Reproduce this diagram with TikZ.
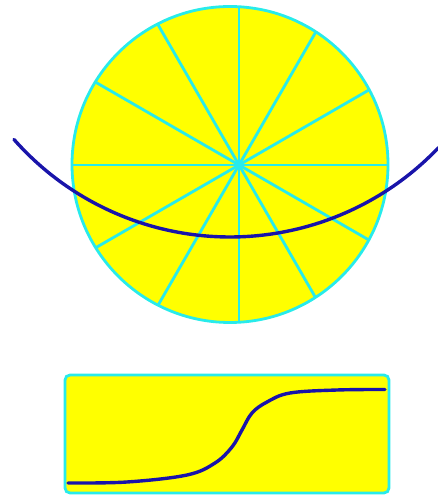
\documentclass[tikz,border=0pt]{standalone}
\usepackage{tikz}
\usetikzlibrary{calc}
\definecolor{amarillo}{RGB}{255,255,0}
\definecolor{cian}{RGB}{40,235,235}
\definecolor{azuloscuro}{RGB}{25,20,170}

\begin{document}
\begin{tikzpicture}[x=1pt,y=1pt,
rueda/.style={draw=cian,line width=2.8pt,fill=amarillo},
radio/.style={draw=cian,line width=2.8pt},
caja/.style={draw=cian,line width=2.8pt,fill=amarillo,rounded corners=5pt},
curva/.style={draw=azuloscuro,line width=3.4pt,line cap=round,line join=round}
]
\useasboundingbox (0,0) rectangle (438,495);

\coordinate (centro) at (230,330.5);
\coordinate (eje) at (239,330);
\coordinate (arcocentro) at (230,546);

% rueda con radios
\fill[amarillo] (centro) circle[radius=158];
\begin{scope}
  \clip (centro) circle[radius=158];
  \foreach \a in {0,30,...,330}
    \draw[radio] (eje) -- ++(\a:200);
\end{scope}
\draw[rueda,fill=none] (centro) circle[radius=158];

% arco
\draw[curva] ($(arcocentro)+(221.4:288)$) arc[start angle=221.4,end angle=316.4,radius=288];

% caja con sigmoide
\draw[caja] (65,2) rectangle (389,120);
\draw[curva] plot[smooth,tension=0.6] coordinates {(68,12) (127,13) (187,20) (215,32)
  (232,48) (242,65) (252,82) (267,93) (290,102) (337,105) (385,105.5)};
\end{tikzpicture}
\end{document}
